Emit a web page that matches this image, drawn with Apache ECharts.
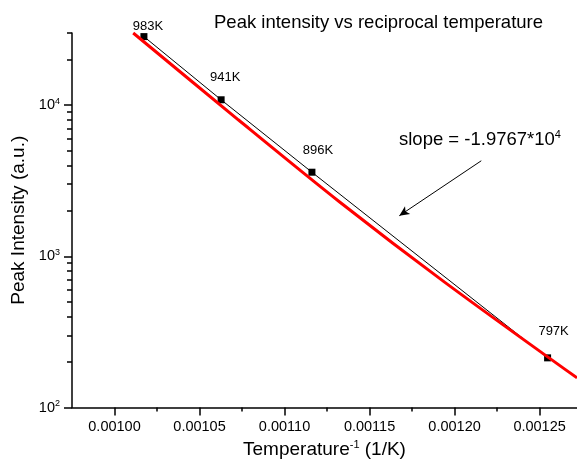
<!DOCTYPE html>
<html>
<head>
<meta charset="utf-8">
<script src="https://cdn.jsdelivr.net/npm/echarts@6/dist/echarts.min.js"></script>
<style>
  html, body { margin: 0; padding: 0; background: #fff; }
  #main { width: 577px; height: 464px; }
</style>
</head>
<body>
<div id="main"></div>
<script>
// measured points: reciprocal temperature vs peak intensity
var tempLabels = ['983K', '941K', '896K', '797K']
var invTemp = [0.0010173, 0.0010627, 0.0011161, 0.0012547]
var intensity = [28400, 10850, 3600, 213]

// red fit curve
var fitX = [0.001011, 0.0010728, 0.0011328, 0.0011945, 0.001272]
var fitY = [30000, 8000, 2270, 670, 157]

// tick positions
var xMajor = [0.00100, 0.00105, 0.00110, 0.00115, 0.00120, 0.00125]
var xMinor = [0.001025, 0.001075, 0.001125, 0.001175, 0.001225]
var yMajor = [100, 1000, 10000]
var yMinor = [200, 300, 400, 500, 600, 700, 800, 900,
  2000, 3000, 4000, 5000, 6000, 7000, 8000, 9000, 20000, 30000]

// annotation arrow (data coords)
var arrowFrom = [0.0012157, 4285]
var arrowTo = [0.0011675, 1856]

var FONT = 'Liberation Sans, Arial, sans-serif'
var labelNudge = [[4, 12], [4, 0], [6, 0], [6, -4]]

var chart = echarts.init(document.getElementById('main'))

var points = invTemp.map(function (x, i) {
  return {
    value: [x, intensity[i]],
    label: { offset: labelNudge[i] }
  }
})
var fit = fitX.map(function (x, i) { return [x, fitY[i]] })

var axisCommon = {
  axisLine: { show: true, lineStyle: { color: '#000', width: 1.5 } },
  splitLine: { show: false }
}

var option = {
  animation: false,
  backgroundColor: '#fff',
  title: {
    text: 'Peak intensity vs reciprocal temperature',
    left: 209,
    top: 8,
    textStyle: { fontFamily: FONT, fontSize: 18.5, fontWeight: 'normal', color: '#000' }
  },
  grid: { left: 72, right: 0, top: 33, bottom: 56 },
  xAxis: [
    Object.assign({
      type: 'value',
      min: 0.000975,
      max: 0.001272,
      position: 'bottom',
      name: 'Temperature{s|-1} (1/K)',
      nameLocation: 'middle',
      nameGap: 32,
      nameTextStyle: {
        fontFamily: FONT, fontSize: 19, color: '#000',
        rich: { s: { fontFamily: FONT, fontSize: 11, padding: [0, 0, 9, 0], color: '#000' } }
      },
      axisTick: { show: true, inside: false, length: 8, customValues: xMajor, lineStyle: { color: '#000', width: 1.5 } },
      axisLabel: {
        customValues: xMajor,
        margin: 12,
        fontFamily: FONT, fontSize: 14.5, color: '#000',
        formatter: function (v) { return v.toFixed(5) }
      }
    }, axisCommon),
    {
      type: 'value',
      min: 0.000975,
      max: 0.001272,
      position: 'bottom',
      axisLine: { show: false },
      splitLine: { show: false },
      axisLabel: { show: false },
      axisTick: { show: true, length: 4, customValues: xMinor, lineStyle: { color: '#000', width: 1.5 } }
    }
  ],
  yAxis: [
    Object.assign({
      type: 'log',
      logBase: 10,
      min: 100,
      max: 30000,
      position: 'left',
      name: 'Peak Intensity (a.u.)',
      nameLocation: 'middle',
      nameGap: 37,
      nameTextStyle: { fontFamily: FONT, fontSize: 19, color: '#000' },
      axisTick: { show: true, length: 8, customValues: yMajor, lineStyle: { color: '#000', width: 1.5 } },
      axisLabel: {
        customValues: yMajor,
        margin: 12,
        color: '#000',
        formatter: function (v) {
          return '{b|10}{s|' + Math.round(Math.log10(v)) + '}'
        },
        rich: {
          b: { fontFamily: FONT, fontSize: 14.5, color: '#000' },
          s: { fontFamily: FONT, fontSize: 9, color: '#000', padding: [0, 0, 8, 0] }
        }
      }
    }, axisCommon),
    {
      type: 'log',
      logBase: 10,
      min: 100,
      max: 30000,
      position: 'left',
      axisLine: { show: false },
      splitLine: { show: false },
      axisLabel: { show: false },
      axisTick: { show: true, length: 5, customValues: yMinor, lineStyle: { color: '#000', width: 1.5 } }
    }
  ],
  graphic: [
    {
      type: 'text',
      left: 399,
      top: 129,
      style: {
        text: '{b|slope = -1.9767*10}{s|4}',
        rich: {
          b: { fontFamily: FONT, fontSize: 18.5, fill: '#000' },
          s: { fontFamily: FONT, fontSize: 11, fill: '#000', padding: [0, 0, 10, 0] }
        }
      }
    }
  ],
  series: [
    {
      type: 'line',
      data: points,
      symbol: 'rect',
      symbolSize: 7,
      itemStyle: { color: '#000' },
      lineStyle: { color: '#000', width: 1 },
      label: {
        show: true,
        position: 'top',
        distance: 12,
        fontFamily: FONT,
        fontSize: 13,
        color: '#000',
        formatter: function (p) { return tempLabels[p.dataIndex] }
      },
      markLine: {
        silent: true,
        symbol: ['none', 'arrow'],
        symbolSize: [7, 10],
        label: { show: false },
        lineStyle: { color: '#000', width: 1, type: 'solid' },
        data: [[{ coord: arrowFrom }, { coord: arrowTo }]]
      },
      z: 3
    },
    {
      type: 'line',
      data: fit,
      symbol: 'none',
      smooth: 0.3,
      lineStyle: { color: '#ff0000', width: 3 },
      z: 4
    }
  ]
}

chart.setOption(option)
</script>
</body>
</html>
